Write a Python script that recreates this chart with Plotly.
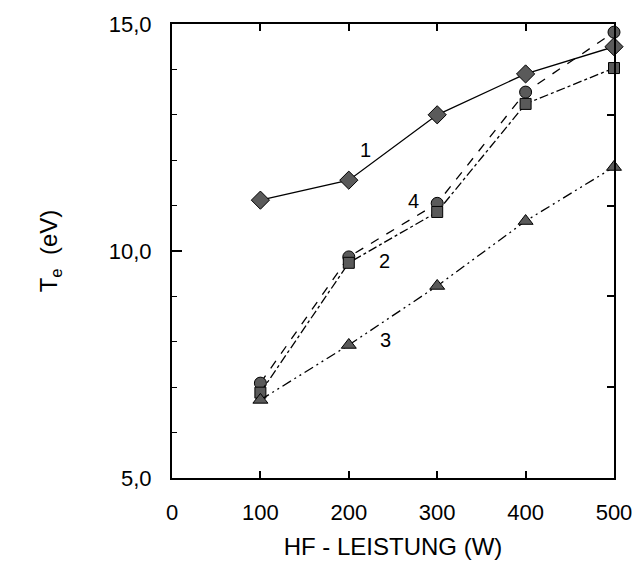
import plotly.graph_objects as go

power = [100, 200, 300, 400, 500]
te_1 = [11.12, 11.56, 13.0, 13.9, 14.5]
te_2 = [6.88, 9.74, 10.86, 13.24, 14.03]
te_3 = [6.72, 7.93, 9.23, 10.66, 11.85]
te_4 = [7.09, 9.87, 11.05, 13.5, 14.82]

curve_labels = ["1", "2", "3", "4"]
label_x = [219, 240, 241, 273]
label_y = [12.22, 9.78, 8.04, 11.1]

x_ticks = [0, 100, 200, 300, 400, 500]
y_ticks = [5, 10, 15]
y_ticktext = ["5,0", "10,0", "15,0"]
right_ticks = [7, 9, 11, 13]

FONT = "Liberation Sans, Arial, sans-serif"
FILL = "#5a5a5a"

fig = go.Figure()

series = [
    (te_1, "diamond", "solid", 14),
    (te_4, "circle", "dash", 12),
    (te_2, "square", "dashdot", 11),
    (te_3, "triangle-up", "10px,4px,2px,4px,2px,4px", 13),
]
for ys, sym, dash, size in series:
    fig.add_trace(go.Scatter(
        x=power, y=ys, mode="lines+markers",
        line=dict(color="black", width=1.3, dash=dash),
        marker=dict(symbol=sym, size=size, color=FILL,
                    line=dict(color="black", width=1)),
        showlegend=False, cliponaxis=False,
    ))

for t, lx, ly in zip(curve_labels, label_x, label_y):
    fig.add_annotation(x=lx, y=ly, text=t, showarrow=False,
                       font=dict(family=FONT, size=20, color="black"))

fig.add_trace(go.Scatter(x=[300], y=[10], yaxis="y2", mode="markers",
                         marker=dict(size=1, opacity=0), showlegend=False,
                         hoverinfo="skip"))

fig.update_layout(
    width=644, height=577,
    margin=dict(l=172, r=22, t=24, b=99),
    plot_bgcolor="white", paper_bgcolor="white",
    font=dict(family=FONT, size=22, color="black"),
    xaxis=dict(
        range=[0, 500], tickvals=x_ticks, ticks="inside", ticklen=7,
        tickwidth=1.5, tickcolor="black", showline=True, linecolor="black",
        linewidth=2, mirror="ticks", showgrid=False, zeroline=False,
        ticklabelstandoff=14, tickfont=dict(family=FONT, size=22),
        title=dict(text="HF - LEISTUNG (W)", font=dict(family=FONT, size=24),
                   standoff=14),
    ),
    yaxis=dict(
        range=[5, 15], tickvals=y_ticks, ticktext=y_ticktext, ticks="inside",
        ticklen=10, tickwidth=1.5, tickcolor="black", showline=True,
        linecolor="black", linewidth=2, mirror=True, showgrid=False,
        zeroline=False, ticklabelstandoff=14,
        tickfont=dict(family=FONT, size=22),
        minor=dict(dtick=1, ticks="inside", ticklen=5, tickcolor="black",
                   tickwidth=1.2, showgrid=False),
        title=dict(text="T<sub>e</sub>  (eV)", font=dict(family=FONT, size=24),
                   standoff=44),
    ),
    yaxis2=dict(
        range=[5, 15], overlaying="y", side="right", tickvals=right_ticks,
        ticks="inside", ticklen=7, tickwidth=1.5, tickcolor="black",
        showticklabels=False, showgrid=False, zeroline=False, showline=False,
    ),
)

fig.write_html("out.html")
